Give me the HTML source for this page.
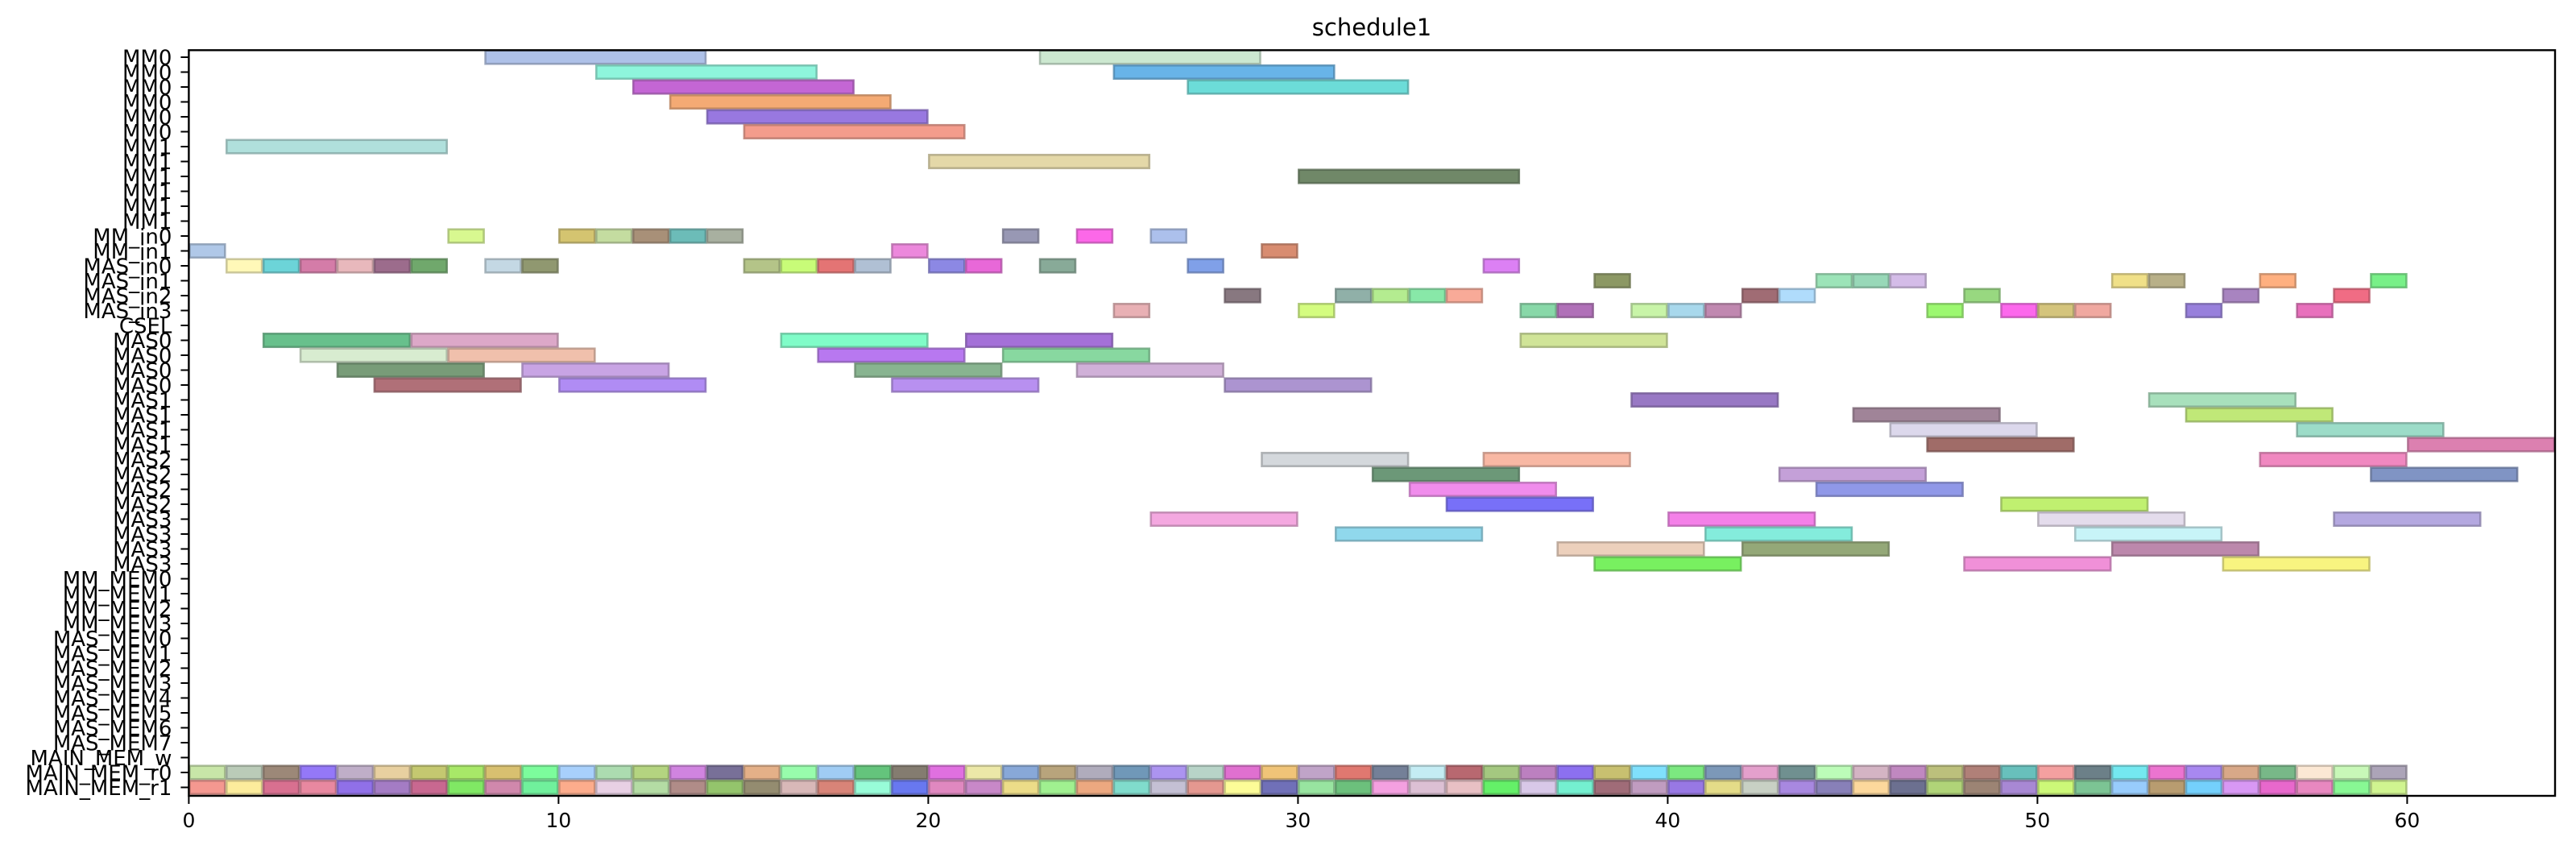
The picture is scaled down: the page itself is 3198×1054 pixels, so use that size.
<!DOCTYPE html>
<html><head><meta charset="utf-8"><style>
html,body{margin:0;padding:0;background:#fff;}
svg{display:block;font-family:"DejaVu Sans","Liberation Sans",sans-serif;}
</style></head><body>
<svg id="chart" width="3198" height="1054" viewBox="0 0 3198 1054" xmlns="http://www.w3.org/2000/svg">
<text x="1703" y="44" font-size="29" text-anchor="middle" fill="#000">schedule1</text>
<g id="bars"></g>
<g id="yaxis"></g>
<g id="xaxis"></g>
<rect x="234.4" y="62.3" width="2937.6" height="925.7" fill="none" stroke="#000" stroke-width="2.4"/>
</svg>
<script>
const categories = ["MM0","MM0","MM0","MM0","MM0","MM0","MM1","MM1","MM1","MM1","MM1","MM1","MM_in0","MM_in1","MAS_in0","MAS_in1","MAS_in2","MAS_in3","CSEL","MAS0","MAS0","MAS0","MAS0","MAS1","MAS1","MAS1","MAS1","MAS2","MAS2","MAS2","MAS2","MAS3","MAS3","MAS3","MAS3","MM_MEM0","MM_MEM1","MM_MEM2","MM_MEM3","MAS_MEM0","MAS_MEM1","MAS_MEM2","MAS_MEM3","MAS_MEM4","MAS_MEM5","MAS_MEM6","MAS_MEM7","MAIN_MEM_w","MAIN_MEM_r0","MAIN_MEM_r1"];
const xTicks = [0,10,20,30,40,50,60];
const xMax = 64;
const taskRow = [0,0,1,1,2,2,3,4,5,6,7,8,
12,12,12,12,12,12,12,12,12,
13,13,13,
14,14,14,14,14,14,14,14,14,14,14,14,14,14,14,14,14,
15,15,15,15,15,15,15,15,
16,16,16,16,16,16,16,16,16,16,
17,17,17,17,17,17,17,17,17,17,17,17,17,
19,19,19,19,19,20,20,20,20,21,21,21,21,22,22,22,22,
23,23,24,24,25,25,26,26,
27,27,27,28,28,28,29,29,30,30,
31,31,31,31,32,32,32,33,33,33,34,34,34];
const taskStart = [8,23,11,25,12,27,13,14,15,1,20,30,
7,10,11,12,13,14,22,24,26,
0,19,29,
1,2,3,4,5,6,8,9,15,16,17,18,20,21,23,27,35,
38,44,45,46,52,53,56,59,
28,31,32,33,34,42,43,48,55,58,
25,30,36,37,39,40,41,47,49,50,51,54,57,
2,6,16,21,36,3,7,17,22,4,9,18,24,5,10,19,28,
39,53,45,54,46,57,47,60,
29,35,56,32,43,59,33,44,34,49,
26,40,50,58,31,41,51,37,42,52,38,48,55];
const taskEnd = [14,29,17,31,18,33,19,20,21,7,26,36,
8,11,12,13,14,15,23,25,27,
1,20,30,
2,3,4,5,6,7,9,10,16,17,18,19,21,22,24,28,36,
39,45,46,47,53,54,57,60,
29,32,33,34,35,43,44,49,56,59,
26,31,37,38,40,41,42,48,50,51,52,55,58,
6,10,20,25,40,7,11,21,26,8,13,22,28,9,14,23,32,
43,57,49,58,50,61,51,64,
33,39,60,36,47,63,37,48,38,53,
30,44,54,62,35,45,55,41,46,56,42,52,59];
const taskColor = ["#aec1e8","#cce8d0","#8ef5dc","#68b4e8","#c466d4","#6cdcd8","#f4aa74","#9878e0","#f49c8c","#b0e0dc","#e4d8a8","#708868",
"#d8f890","#d4c470","#c4dca0","#a89078","#6cbcb8","#a8b0a0","#9898b4","#fc68e8","#acc0ec",
"#b0c8e8","#ec88dc","#d88c70",
"#fff8b8","#6cd4d8","#d47ca8","#e8b8bc","#9c6c8c","#70a86c","#c4d8e4","#909870","#b4c488","#c8fc78","#e47474","#b0c0d4","#8c88e4","#e868d8","#88aa98","#80a0e8","#dc80f4",
"#8c9864","#9ce4b8","#98d8b8","#d4bce8","#f0e088","#b8b088","#ffb080","#78f088",
"#887880","#90b0a8","#b4ec90","#88e8a8","#f8aa98","#a06c74","#b0dcfc","#98d880","#a884c0","#f06c84",
"#e8b0b4","#d4fc80","#88d8a8","#b070b8","#c8f4a8","#a8d8ec","#c088b0","#9cf870","#fc68ec","#d4c47c","#f0a8a0","#9880dc","#e870bc",
"#68c08c","#dca8c8","#80fcc8","#a470d8","#d0e498","#d8ecd0","#f0c0ac","#b878f0","#88d8a0","#789c78","#c8a4e4","#88b490","#d0b0d8","#b07078","#b08cf4","#b890f0","#ac94d0",
"#9878c4","#a8e0bc","#a08498","#c0e878","#dcd8ec","#9cdcc8","#a06c68","#dc80b0",
"#d4d8dc","#f8b8a4","#f088c0","#6c9878","#c4a0d8","#8094c4","#f08cec","#9098e8","#7870f8","#c0f070",
"#f4a8e0","#f480e8","#e4dcec","#b4a8e0","#90d8ec","#84ecdc","#c8f4f8","#ecd0bc","#94a878","#bc88ac","#78f060","#f090d8","#f8f480"];
const r0Colors = ["#c8e6a8","#bacbb8","#9c8878","#9478f8","#bfaec8","#e8d0a0","#c4c870","#a8e868","#d8c070","#7cfc9c","#a8d0fc","#acdcb0","#b4d480","#d084e0","#787098","#e4b088","#98fcac","#a0ccf4","#64c47c","#847c70","#e070e0","#ece8a8","#88a8d8","#b8a47c","#b0acbc","#7098b8","#ac94f0","#b8d4c8","#e070d0","#f0c478","#c0a4c8","#e07870","#748098","#c4ecf4","#b86870","#a4c880","#bc80c0","#8c70f0","#c8c070","#80e0fc","#7ce880","#7c98b8","#e4a0cc","#709090","#bcfcb8","#d4b4c4","#c088c0","#bcc07c","#b08078","#68c0bc","#f4a0a0","#6c8088","#74e8f0","#ec74d0","#a888f0","#d8a888","#78b888","#fce8d4","#c8f8b8","#aca4b8"];
const r1Colors = ["#f49890","#fcec9c","#d87090","#e888a0","#9070e8","#a47cc4","#c86890","#80e864","#d088ac","#70f09c","#fcac8c","#e8d0e4","#b4dca4","#b08c88","#94c46c","#948c70","#d8b8b8","#d88478","#98fcd8","#6878f0","#e088c0","#c888c8","#ecdc88","#a0f090","#eca880","#80dccc","#c4c0d4","#e49890","#fcfc98","#7070b8","#98e4a0","#6cc07c","#f4a0e0","#dcc0d4","#e8c0c4","#64f068","#d8c8e8","#74f0d0","#a06c78","#c09cc0","#9878e4","#e4dc88","#c8d0c4","#a888e0","#8880b8","#fcd89c","#6c7090","#b0d478","#9c8474","#a888d4","#ccf878","#7cc494","#98ccfc","#b89c70","#74d0fc","#d898f4","#e868cc","#e888c0","#88f894","#d0f490"];
const r0Row = 48, r1Row = 49;

const NS = "http://www.w3.org/2000/svg";
const X0 = 234.4, X1 = 3172, Y0 = 71, ROWH = 18.5, BOTTOM = 988;
function xs(t){ return X0 + (X1 - X0) * t / xMax; }
function ys(r){ return Y0 + ROWH * r; }
function darker(c){
  const n = parseInt(c.slice(1),16);
  const r = Math.round(((n>>16)&255)*0.75), g = Math.round(((n>>8)&255)*0.75), b = Math.round((n&255)*0.75);
  return "rgb("+r+","+g+","+b+")";
}
const bars = document.getElementById("bars");
function bar(row, s, e, col){
  const r = document.createElementNS(NS, "rect");
  r.setAttribute("x", xs(s) + 1); r.setAttribute("width", xs(e) - xs(s) - 2);
  r.setAttribute("y", ys(row) - ROWH/2 + 1); r.setAttribute("height", ROWH - 2);
  r.setAttribute("fill", col); r.setAttribute("stroke", darker(col)); r.setAttribute("stroke-opacity", "0.8"); r.setAttribute("stroke-width", "2.6");
  
  
  bars.appendChild(r);
}
for (let i = 0; i < taskRow.length; i++) bar(taskRow[i], taskStart[i], taskEnd[i], taskColor[i]);
for (let i = 0; i < r0Colors.length; i++) bar(r0Row, i, i + 1, r0Colors[i]);
for (let i = 0; i < r1Colors.length; i++) bar(r1Row, i, i + 1, r1Colors[i]);

const ya = document.getElementById("yaxis");
categories.forEach((c, i) => {
  const y = ys(i);
  const l = document.createElementNS(NS, "line");
  l.setAttribute("x1", X0 - 10); l.setAttribute("x2", X0); l.setAttribute("y1", y); l.setAttribute("y2", y);
  l.setAttribute("stroke", "#000"); l.setAttribute("stroke-width", "2");
  
  
  ya.appendChild(l);
  const t = document.createElementNS(NS, "text");
  t.setAttribute("x", X0 - 21); t.setAttribute("y", y + 9.5);
  t.setAttribute("text-anchor", "end"); t.setAttribute("font-size", "26");
  t.textContent = c;
  
  
  ya.appendChild(t);
});
const xa = document.getElementById("xaxis");
xTicks.forEach(v => {
  const x = xs(v);
  const l = document.createElementNS(NS, "line");
  l.setAttribute("x1", x); l.setAttribute("x2", x); l.setAttribute("y1", BOTTOM); l.setAttribute("y2", BOTTOM + 10);
  l.setAttribute("stroke", "#000"); l.setAttribute("stroke-width", "2");
  
  
  xa.appendChild(l);
  const t = document.createElementNS(NS, "text");
  t.setAttribute("x", x); t.setAttribute("y", 1027);
  t.setAttribute("text-anchor", "middle"); t.setAttribute("font-size", "25");
  t.textContent = v;
  
  
  xa.appendChild(t);
});
</script>
</body></html>
